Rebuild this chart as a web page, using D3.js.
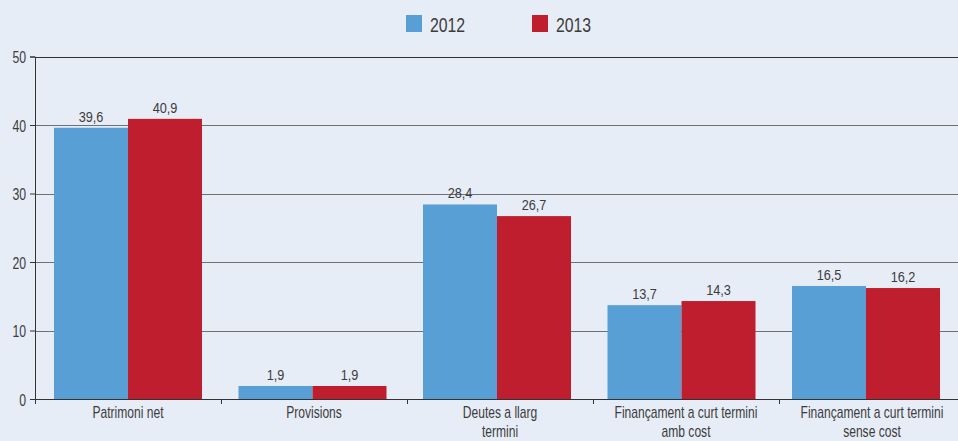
<!DOCTYPE html>
<html><head><meta charset="utf-8">
<script src="https://cdn.jsdelivr.net/npm/d3@7"></script>
<style>
html,body{margin:0;padding:0;background:#e7edf7;}
svg{display:block;}
text{font-family:"Liberation Sans",Arial,sans-serif;fill:#3c3c3c;}
</style></head>
<body>
<svg id="c" width="958" height="441"></svg>
<script>
const categories = [["Patrimoni net"],["Provisions"],["Deutes a llarg","termini"],["Finançament a curt termini","amb cost"],["Finançament a curt termini","sense cost"]];
const seriesNames = ["2012","2013"];
const values2012 = [39.6, 1.9, 28.4, 13.7, 16.5];
const values2013 = [40.9, 1.9, 26.7, 14.3, 16.2];
const yTicks = [0,10,20,30,40,50];
const colors = ["#589fd5","#be1e2d"];

(function(){
const svg = d3.select("#c");
const mLeft = 35, mRight = 965, mTop = 56.5, mBottom = 399;
// category bands for ticks/labels
const x = d3.scaleBand().domain(d3.range(categories.length)).range([mLeft,mRight]);
// bar groups
const xb = d3.scaleBand().domain(d3.range(categories.length)).range([54, 54+184.5*categories.length]);
const x1 = d3.scaleBand().domain(seriesNames).range([0, 148]);
const y = d3.scaleLinear().domain([0,50]).range([mBottom, mTop]);
const fmt = v => d3.format(".1f")(v).replace(".", ",");

function compress(sel, k){
  sel.each(function(){
    const w = this.getComputedTextLength();
    if (w>0){ this.setAttribute("textLength", w*k); this.setAttribute("lengthAdjust","spacingAndGlyphs"); }
  });
}

// grid
svg.append("g").selectAll("line").data(yTicks.filter(d=>d>0)).join("line")
  .attr("x1", mLeft).attr("x2", 958).attr("y1", d=>Math.round(y(d))+0.5).attr("y2", d=>Math.round(y(d))+0.5)
  .attr("stroke", d=>d===50?"#333":"#707070").attr("stroke-width", 1);

// bars
const data = [values2012, values2013];
seriesNames.forEach((s, si) => {
  const g = svg.append("g");
  g.selectAll("rect").data(data[si]).join("rect")
    .attr("x", (d,i)=>xb(i)+x1(s)).attr("width", x1.bandwidth())
    .attr("y", d=>y(d)).attr("height", d=>y(0)-y(d))
    .attr("fill", colors[si]);
  const t = g.selectAll("text").data(data[si]).join("text")
    .attr("x", (d,i)=>xb(i)+x1(s)+x1.bandwidth()/2).attr("y", d=>y(d)-6)
    .attr("text-anchor","middle").attr("font-size", 15.5).text(d=>fmt(d));
  compress(t, 0.82);
});

// y axis
const yAxis = d3.axisLeft(y).tickValues(yTicks).tickSize(5).tickPadding(4);
const ya = svg.append("g").attr("transform", `translate(${mLeft},0)`).call(yAxis);
ya.select(".domain").attr("stroke","#333");
ya.selectAll(".tick line").attr("stroke","#333");
ya.selectAll("text").attr("font-size", 17).attr("fill","#3c3c3c").attr("dy","0.36em").style("font-family",'"Liberation Sans",Arial,sans-serif');
compress(ya.selectAll("text"), 0.72);

// x axis
svg.append("line").attr("x1", mLeft).attr("x2", 958).attr("y1", mBottom+0.5).attr("y2", mBottom+0.5).attr("stroke","#333");
svg.append("g").selectAll("line").data(d3.range(categories.length)).join("line")
  .attr("x1", d=>Math.round(x(d))+0.5).attr("x2", d=>Math.round(x(d))+0.5).attr("y1", mBottom).attr("y2", mBottom+5).attr("stroke","#333");
const xl = svg.append("g").selectAll("text").data(categories).join("text")
  .attr("text-anchor","middle").attr("font-size", 17)
  .attr("transform", (d,i)=>`translate(${x(i)+x.bandwidth()/2},418)`);
const ts = xl.selectAll("tspan").data(d=>d).join("tspan").attr("x",0).attr("y",(d,i)=>i*19).text(d=>d);
compress(ts, 0.71);

// legend
const lg = svg.append("g");
const lx = [406, 532];
seriesNames.forEach((s,i)=>{
  lg.append("rect").attr("x", lx[i]).attr("y", 15).attr("width",16).attr("height",17).attr("fill", colors[i]);
  const t = lg.append("text").attr("x", lx[i]+24).attr("y", 32).attr("font-size", 20).text(s);
  compress(t, 0.79);
});
})();
</script>
</body></html>
